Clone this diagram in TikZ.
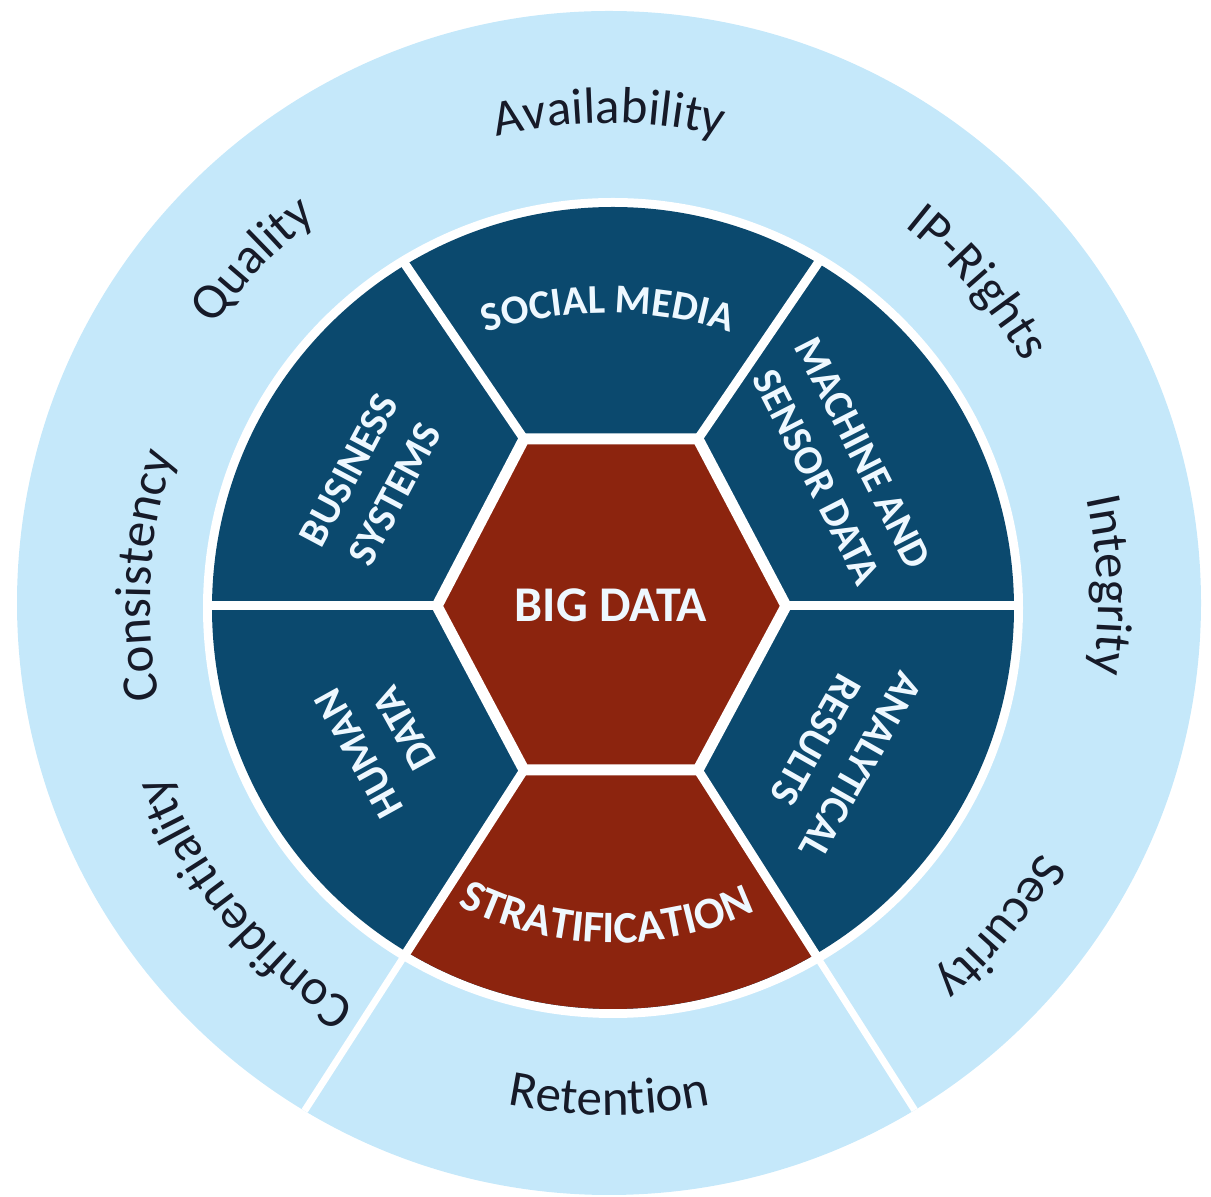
\documentclass[tikz,border=0pt]{standalone}
\usepackage{fontspec}
\setmainfont{Carlito}
\usetikzlibrary{decorations.text,calc}
\definecolor{ring}{RGB}{197,232,250}
\definecolor{navy}{RGB}{11,73,110}
\definecolor{brick}{RGB}{140,36,14}
\definecolor{ink}{RGB}{22,26,40}
\definecolor{snow}{RGB}{238,248,255}
\newcommand{\outfmt}{\color{ink}\fontsize{51}{60}\selectfont}
\newcommand{\infmt}{\color{snow}\bfseries\fontsize{41}{48}\selectfont}
\newcommand{\stratfmt}{\color{snow}\bfseries\fontsize{45}{52}\selectfont}
% clockwise text (tops outward): centre, radius, mid angle, format, text
\newcommand{\cwtext}[5]{\path[decorate,decoration={text along path,text align=center,text={|#4|#5}}] ($(#1)+(#3+40:#2)$) arc[start angle=#3+40, end angle=#3-40, radius=#2];}
% counter-clockwise text (tops inward)
\newcommand{\ccwtext}[5]{\path[decorate,decoration={text along path,text align=center,text={|#4|#5}}] ($(#1)+(#3-40:#2)$) arc[start angle=#3-40, end angle=#3+40, radius=#2];}
\tikzset{
  seglabel/.style={text=snow, font=\bfseries\fontsize{41}{52}\selectfont, align=center, inner sep=0pt},
  biglabel/.style={text=snow, font=\bfseries\fontsize{50}{58}\selectfont, inner sep=0pt},
  spoke/.style={white, line width=9pt},
  ringspoke/.style={white, line width=7pt}
}
\begin{document}
\begin{tikzpicture}[x=1pt,y=1pt]
\useasboundingbox (0,0) rectangle (1211,1197);
\coordinate (O) at (609,594);
\coordinate (I) at (613,589);
\coordinate (L) at (437,591);
\coordinate (TL) at (524,758);
\coordinate (TR) at (698,758);
\coordinate (R) at (786,591);
\coordinate (BR) at (698,427);
\coordinate (BL) at (524,427);
\coordinate (fL) at (150,591);
\coordinate (fTL) at (290,1102);
\coordinate (fTR) at (930,1098);
\coordinate (fR) at (1080,591);
\coordinate (fBR) at (998,-44);
\coordinate (fBL) at (224,-39);
\coordinate (SMc) at (608,484);
% outer ring
\fill[ring] (O) circle (592);
\begin{scope}
  \clip (O) circle (592);
  \draw[ringspoke] (BL) -- (fBL);
  \draw[ringspoke] (BR) -- (fBR);
\end{scope}
% inner disc
\fill[white] (I) circle (410);
\fill[navy] (I) circle (401);
\begin{scope}
  \clip (I) circle (401);
  \fill[brick] (BL) -- (BR) -- (fBR) -- (fBL) -- cycle;
\end{scope}
\begin{scope}
  \clip (I) circle (405);
  \draw[spoke] (L) -- (fL);
  \draw[spoke] (TL) -- (fTL);
  \draw[spoke] (TR) -- (fTR);
  \draw[spoke] (R) -- (fR);
  \draw[spoke] (BR) -- (fBR);
  \draw[spoke] (BL) -- (fBL);
\end{scope}
\filldraw[fill=brick, draw=white, line width=11pt, line join=miter] (L) -- (TL) -- (TR) -- (R) -- (BR) -- (BL) -- cycle;
% inner labels
\node[biglabel] (big) at (611,592) {BIG DATA};
\node[seglabel, rotate=62] (bus) at (372,715) {BUSINESS\\SYSTEMS};
\node[seglabel, rotate=-63] (mach) at (840,732) {MACHINE AND\\SENSOR DATA};
\node[seglabel, rotate=119] (hum) at (382,456) {HUMAN\\DATA};
\node[seglabel, rotate=-119.6] (ana) at (838,444) {ANALYTICAL\\RESULTS};
\cwtext{SMc}{400}{90}{\infmt}{SOCIAL MEDIA}
\ccwtext{I}{335}{268.8}{\stratfmt}{STRATIFICATION}
% outer labels
\cwtext{O}{480}{90}{\outfmt}{Availability}
\cwtext{O}{483}{136.1}{\outfmt}{Quality}
\cwtext{O}{479}{41}{\outfmt}{IP-Rights}
\cwtext{O}{489}{2}{\outfmt}{Integrity}
\cwtext{O}{498}{-39.6}{\outfmt}{Security}
\cwtext{O}{476}{219.5}{\outfmt}{Confidentiality}
\cwtext{O}{459}{176.6}{\outfmt}{Consistency}
\ccwtext{O}{512}{270}{\outfmt}{Retention}
\end{tikzpicture}
\end{document}
